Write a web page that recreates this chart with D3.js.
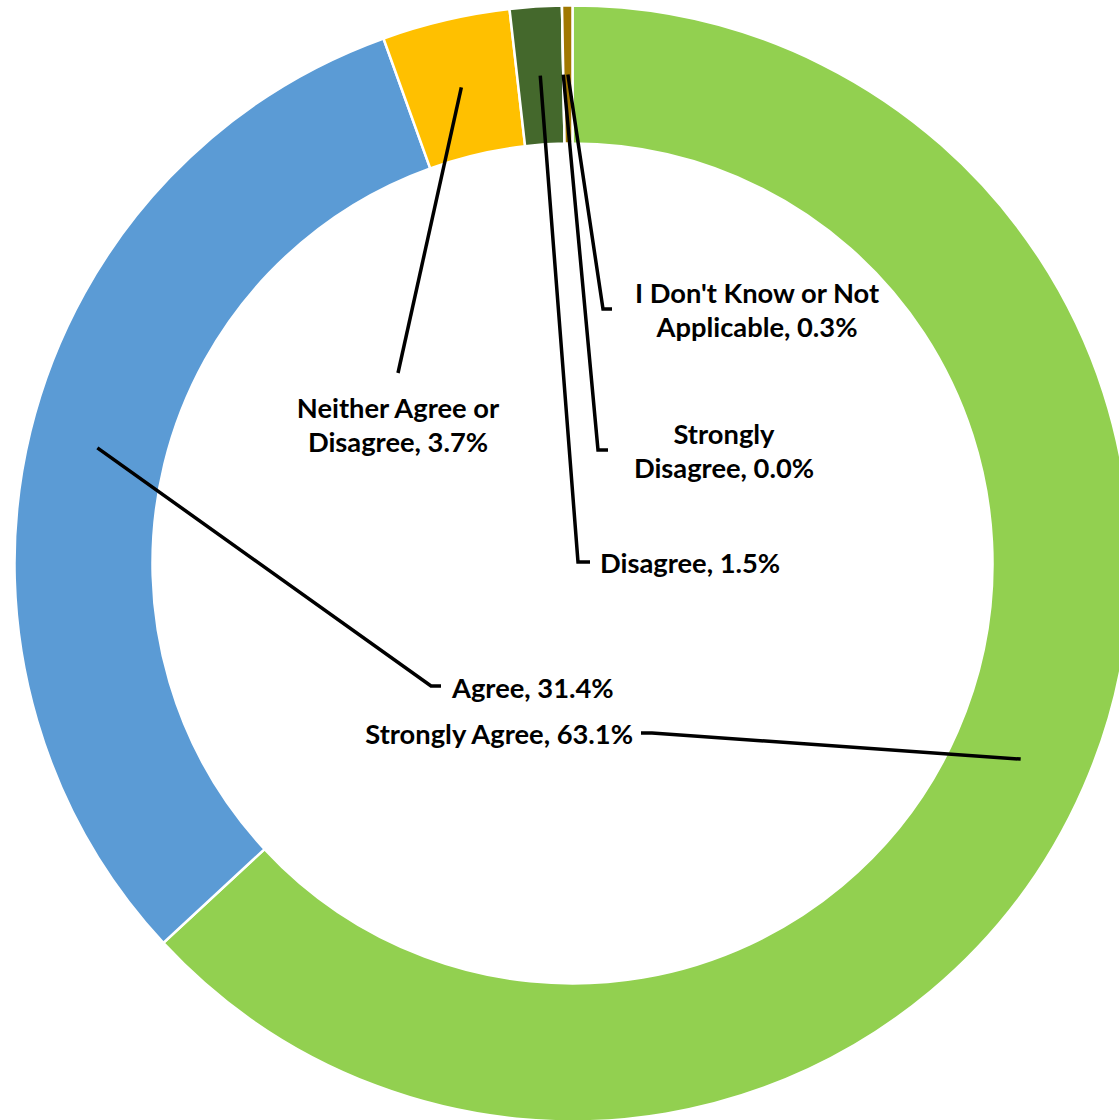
<!DOCTYPE html>
<html>
<head>
<meta charset="utf-8">
<script src="https://cdn.jsdelivr.net/npm/d3@7"></script>
<style>
html,body{margin:0;padding:0;background:#fff;overflow:hidden;}
svg{display:block;}
text{font-family:Lato,"Open Sans",sans-serif;font-weight:700;fill:#000;}
</style>
</head>
<body>
<script>
// ---- data ----
const categories = ["Strongly Agree","Agree","Neither Agree or Disagree","Disagree","Strongly Disagree","I Don't Know or Not Applicable"];
const values = [63.1, 31.4, 3.7, 1.5, 0.0, 0.3];
const labelLines = [
  ["Strongly Agree, 63.1%"],
  ["Agree, 31.4%"],
  ["Neither Agree or","Disagree, 3.7%"],
  ["Disagree, 1.5%"],
  ["Strongly","Disagree, 0.0%"],
  ["I Don't Know or Not","Applicable, 0.3%"]
];
const colors = ["#92D050","#5B9BD5","#FFC000","#44682C","#7F6000","#A07800"];

// ---- layout (label placement) ----
const W = 1119, H = 1120;
const cx = 572.5, cy = 563.5, R = 558, r = 420;
const fontSize = 27.3, lineH = 34;
const labelLayout = [
  {elbow:[652,733], end:[641,733], at:[633,733], anchor:"end"},
  {elbow:[431,686], end:[441,686], at:[452,687], anchor:"start"},
  {elbow:[398,373], end:null, at:[398,407], anchor:"middle", below:true},
  {elbow:[578,562], end:[590,562], at:[600,562], anchor:"start"},
  {elbow:[598,450], end:[608,450], at:[724,450], anchor:"middle"},
  {elbow:[603,309], end:[612,309], at:[757,309], anchor:"middle"}
];

const svg = d3.select("body").append("svg").attr("width",W).attr("height",H);
const g = svg.append("g").attr("transform",`translate(${cx},${cy})`);

const pie = d3.pie().sort(null).value(d=>d).startAngle(0).endAngle(2*Math.PI);
const arcs = pie(values);
const arc = d3.arc().innerRadius(r).outerRadius(R);
const midArc = d3.arc().innerRadius((r+R)/2).outerRadius((r+R)/2);

g.selectAll("path.slice").data(arcs).join("path")
  .attr("class","slice")
  .attr("d",arc)
  .attr("fill",(d,i)=>colors[i])
  .attr("stroke","#fff")
  .attr("stroke-width",2.5)
  .attr("stroke-linejoin","miter");

// leader lines
const line = d3.line();
arcs.forEach((d,i)=>{
  const c = midArc.centroid(d);
  const L = labelLayout[i];
  const pts = [[cx+c[0], cy+c[1]], L.elbow];
  if (L.end) pts.push(L.end);
  svg.append("path")
    .attr("d", line(pts))
    .attr("fill","none")
    .attr("stroke","#000")
    .attr("stroke-width",3.5)
    .attr("stroke-linejoin","miter");
});

// labels
labelLines.forEach((lines,i)=>{
  const L = labelLayout[i];
  const n = lines.length;
  const t = svg.append("text")
    .attr("text-anchor",L.anchor)
    .attr("font-size",fontSize)
    .attr("dominant-baseline","central");
  lines.forEach((s,k)=>{
    let y;
    if (L.below) y = L.at[1] + k*lineH;
    else y = L.at[1] + (k-(n-1)/2)*lineH;
    t.append("tspan").attr("x",L.at[0]).attr("y",y).text(s);
  });
});
</script>
</body>
</html>
